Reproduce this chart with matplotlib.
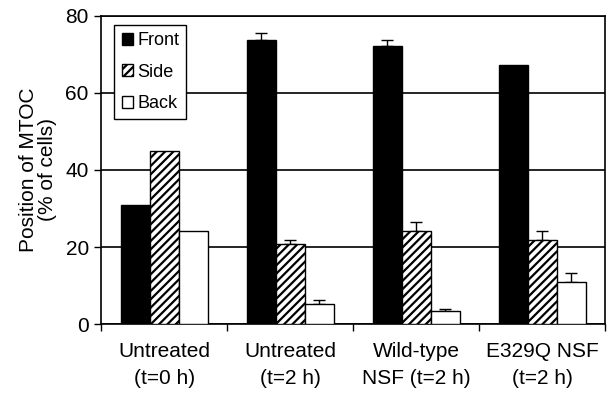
import numpy as np
import matplotlib
matplotlib.use("Agg")
import matplotlib.pyplot as plt

plt.rcParams['font.family'] = ['Liberation Sans', 'DejaVu Sans']
plt.rcParams['hatch.linewidth'] = 1.6

# === Data ===
categories = ["Untreated\n(t=0 h)", "Untreated\n(t=2 h)", "Wild-type\nNSF (t=2 h)", "E329Q NSF\n(t=2 h)"]
front = [31, 73.7, 72.1, 67.2]
side = [45, 20.7, 24.2, 21.8]
back = [24.2, 5.2, 3.3, 10.9]
front_err = [0, 1.8, 1.6, 0]
side_err = [0, 1.1, 2.3, 2.4]
back_err = [0, 1.0, 0.7, 2.3]

fig = plt.figure(figsize=(6.07, 3.93), dpi=100)
ax = fig.add_axes([0.167, 0.175, 0.83, 0.785])

x = np.arange(len(categories))
w = 0.23
ek = dict(ecolor="black", elinewidth=1.0, capsize=4, capthick=1.0)

def draw(offset, vals, errs, face, hatch, label):
    z = np.zeros(len(vals))
    e = np.array(errs)
    ax.bar(x + offset, vals, w, color=face, edgecolor="black", linewidth=1.0,
           hatch=hatch, label=label, zorder=3)
    mask = e > 0
    ax.errorbar((x + offset)[mask], np.array(vals)[mask], yerr=[z[mask], e[mask]],
                fmt="none", zorder=2, **ek)

draw(-w, front, front_err, "black", None, "Front")
draw(0, side, side_err, "white", "////", "Side")
draw(w, back, back_err, "white", None, "Back")

ax.set_xlim(-0.5, 3.5)
ax.set_ylim(0, 80)
ax.set_yticks([0, 20, 40, 60, 80])
ax.tick_params(axis="y", labelsize=15, length=5, width=1, direction="out", pad=4)
ax.set_xticks([-0.5, 0.5, 1.5, 2.5, 3.5])
ax.set_xticklabels([])
ax.set_xticks(x, minor=True)
ax.set_xticklabels(categories, minor=True, fontsize=15, linespacing=1.5)
ax.tick_params(axis="x", which="major", length=5, width=1, direction="out")
ax.tick_params(axis="x", which="minor", length=0, pad=13)

ax.yaxis.grid(True, color="black", linewidth=1.2, zorder=0)
ax.set_axisbelow(True)
for s in ax.spines.values():
    s.set_linewidth(1.2)

ax.set_ylabel("Position of MTOC\n(% of cells)", fontsize=15, linespacing=1.0, labelpad=6)

leg = ax.legend(loc="upper left", bbox_to_anchor=(0.026, 0.97), borderaxespad=0,
                fontsize=13, frameon=True, fancybox=False, edgecolor="black",
                framealpha=1, handlelength=0.65, handleheight=0.65, handletextpad=0.2,
                borderpad=0.4, labelspacing=0.8)
leg.get_frame().set_linewidth(1.0)

fig.savefig("out.png", dpi=100)
